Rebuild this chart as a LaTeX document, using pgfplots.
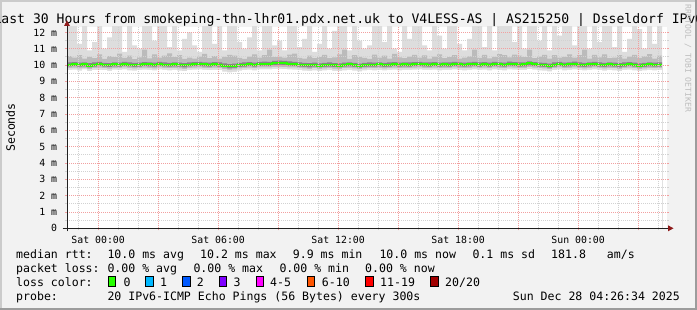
\documentclass[border=0pt]{standalone}
\usepackage{pgfplots}
\pgfplotsset{compat=1.18}
\usepackage{pgfplotstable}
\usepackage{fontspec}
\setmainfont{DejaVu Sans Mono}
\setmonofont{DejaVu Sans Mono}
\newcommand\titlefont{\fontsize{13.1bp}{15bp}\selectfont}
\newcommand\legfont{\fontsize{11.55bp}{13bp}\selectfont}
\newcommand\axfont{\fontsize{9.85bp}{11bp}\selectfont}
\newcommand\tinyfont{\fontsize{8.1bp}{9bp}\selectfont}
\definecolor{bgc}{HTML}{F2F2F2}
\definecolor{shadea}{HTML}{CBCBCB}
\definecolor{shadeb}{HTML}{9C9C9C}
\definecolor{mgridc}{HTML}{F2A0A0}
\definecolor{gridc}{HTML}{D2D2D2}
\definecolor{lightsmoke}{HTML}{DDDDDD}
\definecolor{midsmoke}{HTML}{BBBBBB}
\definecolor{darksmoke}{HTML}{858585}
\definecolor{medgreen}{HTML}{26FF00}
\definecolor{arrowc}{HTML}{8E1B1B}
\definecolor{axisc}{HTML}{202020}
\definecolor{lc1}{HTML}{00B8FF}
\definecolor{lc2}{HTML}{0059FF}
\definecolor{lc3}{HTML}{7E00FF}
\definecolor{lc4}{HTML}{FF00FF}
\definecolor{lc5}{HTML}{FF5500}
\definecolor{lc6}{HTML}{FF0000}
\definecolor{lc7}{HTML}{A10000}
\definecolor{rrdc}{HTML}{BDBDBD}

\pgfplotstableread{
x lmax mhi dhi med dlo mlo lmin
-1.557 12.5 10.55 10.16 10.03 9.92 9.82 9.70
-1.307 12.5 10.45 10.18 10.05 9.93 9.84 9.72
-1.057 11.3 10.60 10.15 10.02 9.90 9.80 9.66
-0.807 12.5 10.40 10.17 10.04 9.92 9.83 9.74
-0.557 10.9 10.50 10.12 9.97 9.86 9.76 9.62
-0.307 11.4 10.42 10.16 10.03 9.91 9.82 9.70
-0.057 12.5 10.65 10.19 10.05 9.93 9.84 9.71
0.193 11.0 10.38 10.14 10.01 9.90 9.81 9.69
0.443 11.7 10.55 10.12 9.98 9.87 9.78 9.64
0.693 12.5 10.48 10.17 10.04 9.92 9.83 9.72
0.943 12.5 10.70 10.15 10.02 9.91 9.82 9.70
1.193 10.8 10.44 10.20 10.06 9.94 9.85 9.73
1.443 12.5 10.58 10.16 10.03 9.92 9.82 9.68
1.693 11.2 10.36 10.13 9.99 9.88 9.79 9.66
1.943 11.0 10.47 10.15 10.02 9.91 9.82 9.70
2.193 12.5 10.95 10.18 10.05 9.93 9.84 9.72
2.443 12.5 10.41 10.17 10.04 9.92 9.83 9.71
2.693 11.5 10.66 10.15 10.02 9.90 9.80 9.67
2.943 12.5 10.46 10.19 10.06 9.94 9.85 9.74
3.193 12.5 10.57 10.16 10.03 9.92 9.82 9.70
3.443 11.1 10.72 10.14 10.01 9.90 9.81 9.68
3.693 12.5 10.49 10.17 10.04 9.92 9.83 9.71
3.943 10.9 10.60 10.15 10.02 9.90 9.80 9.66
4.193 11.6 10.37 10.12 9.98 9.86 9.77 9.63
4.443 12.0 10.45 10.16 10.03 9.92 9.82 9.70
4.693 11.2 10.40 10.18 10.05 9.93 9.84 9.72
4.943 10.8 10.52 10.20 10.07 9.95 9.86 9.74
5.193 12.5 10.68 10.17 10.04 9.92 9.83 9.70
5.443 12.5 10.43 10.15 10.02 9.90 9.81 9.69
5.693 11.3 10.55 10.18 10.05 9.93 9.84 9.71
5.943 12.5 10.39 10.16 10.03 9.91 9.82 9.70
6.193 10.9 10.50 10.10 9.96 9.85 9.75 9.60
6.443 12.5 10.63 10.06 9.92 9.80 9.70 9.55
6.693 12.5 10.58 10.09 9.95 9.83 9.73 9.58
6.943 11.4 10.44 10.13 10.00 9.88 9.79 9.66
7.193 11.0 10.38 10.16 10.03 9.91 9.82 9.70
7.443 11.7 10.51 10.18 10.05 9.93 9.84 9.72
7.693 12.5 10.66 10.15 10.02 9.90 9.81 9.68
7.943 10.9 10.45 10.19 10.06 9.94 9.85 9.73
8.193 12.5 10.60 10.21 10.08 9.96 9.86 9.74
8.443 12.5 10.95 10.20 10.06 9.94 9.85 9.73
8.693 11.2 10.48 10.26 10.12 10.00 9.88 9.76
8.943 11.5 10.52 10.27 10.13 10.01 9.89 9.77
9.193 10.9 10.46 10.25 10.11 9.99 9.87 9.75
9.443 12.5 10.64 10.22 10.08 9.96 9.86 9.74
9.693 12.5 10.70 10.19 10.06 9.94 9.85 9.72
9.943 11.1 10.44 10.16 10.03 9.91 9.82 9.70
10.193 11.6 10.40 10.13 10.00 9.88 9.79 9.66
10.443 12.5 10.58 10.11 9.98 9.86 9.77 9.64
10.693 10.8 10.43 10.15 10.02 9.90 9.81 9.68
10.943 11.3 10.49 10.10 9.97 9.85 9.76 9.62
11.193 12.5 10.62 10.14 10.01 9.89 9.80 9.67
11.443 11.0 10.42 10.16 10.03 9.91 9.82 9.70
11.693 12.1 10.47 10.12 9.99 9.87 9.78 9.65
11.943 12.5 10.65 10.10 9.97 9.85 9.76 9.62
12.193 12.5 10.95 10.15 10.02 9.90 9.81 9.68
12.443 10.9 10.38 10.17 10.04 9.92 9.83 9.71
12.693 12.5 10.61 10.13 10.00 9.88 9.79 9.66
12.943 11.5 10.50 10.09 9.96 9.84 9.75 9.61
13.193 11.0 10.44 10.14 10.01 9.89 9.80 9.67
13.443 11.2 10.37 10.16 10.03 9.91 9.82 9.70
13.693 12.5 10.64 10.15 10.02 9.90 9.81 9.68
13.943 12.5 10.46 10.17 10.04 9.92 9.83 9.71
14.193 11.4 10.57 10.14 10.01 9.89 9.80 9.67
14.443 12.5 10.40 10.16 10.03 9.91 9.82 9.70
14.693 11.0 10.68 10.18 10.05 9.93 9.84 9.72
14.943 10.8 10.47 10.15 10.02 9.90 9.81 9.68
15.193 12.5 10.42 10.17 10.04 9.92 9.83 9.71
15.443 11.6 10.51 10.16 10.03 9.91 9.82 9.70
15.693 12.5 10.63 10.18 10.05 9.93 9.84 9.72
15.943 12.5 10.45 10.19 10.06 9.94 9.85 9.73
16.193 11.2 10.59 10.17 10.04 9.92 9.83 9.71
16.443 10.9 10.39 10.16 10.03 9.91 9.82 9.70
16.693 12.5 10.52 10.18 10.05 9.93 9.84 9.72
16.943 11.8 10.66 10.15 10.02 9.90 9.81 9.68
17.193 11.0 10.43 10.17 10.04 9.92 9.83 9.71
17.443 12.5 10.48 10.16 10.03 9.91 9.82 9.70
17.693 12.5 10.61 10.19 10.06 9.94 9.85 9.73
17.943 11.3 10.40 10.17 10.04 9.92 9.83 9.71
18.193 10.9 10.46 10.15 10.02 9.90 9.81 9.68
18.443 11.6 10.53 10.17 10.04 9.92 9.83 9.71
18.693 12.5 10.95 10.20 10.07 9.95 9.86 9.74
18.943 12.5 10.44 10.16 10.03 9.91 9.82 9.70
19.193 11.1 10.62 10.18 10.05 9.93 9.84 9.72
19.443 12.5 10.41 10.15 10.02 9.90 9.81 9.68
19.693 10.9 10.50 10.19 10.06 9.94 9.85 9.73
19.943 12.5 10.67 10.17 10.04 9.92 9.83 9.71
20.193 12.5 10.60 10.15 10.02 9.90 9.81 9.68
20.443 12.5 10.47 10.21 10.08 9.96 9.86 9.74
20.693 11.4 10.64 10.18 10.05 9.93 9.84 9.72
20.943 12.5 10.58 10.16 10.03 9.91 9.82 9.70
21.193 11.0 10.48 10.17 10.04 9.92 9.83 9.71
21.443 12.5 10.95 10.23 10.10 9.98 9.87 9.75
21.693 12.5 10.43 10.18 10.05 9.93 9.84 9.72
21.943 11.5 10.52 10.15 10.02 9.90 9.81 9.68
22.193 12.5 10.63 10.13 10.00 9.88 9.79 9.66
22.443 10.9 10.39 10.09 9.96 9.84 9.75 9.61
22.693 12.5 10.60 10.16 10.03 9.91 9.82 9.70
22.943 11.8 10.46 10.19 10.06 9.94 9.85 9.73
23.193 12.5 10.50 10.15 10.02 9.90 9.81 9.68
23.443 12.5 10.66 10.17 10.04 9.92 9.83 9.71
23.693 11.2 10.45 10.21 10.08 9.96 9.86 9.74
23.943 12.5 10.61 10.16 10.03 9.91 9.82 9.70
24.193 12.5 10.95 10.14 10.01 9.89 9.80 9.67
24.443 11.0 10.40 10.17 10.04 9.92 9.83 9.71
24.693 12.5 10.62 10.19 10.06 9.94 9.85 9.73
24.943 11.4 10.47 10.16 10.03 9.91 9.82 9.70
25.193 12.5 10.65 10.13 10.00 9.88 9.79 9.66
25.443 12.5 10.42 10.17 10.04 9.92 9.83 9.71
25.693 11.1 10.46 10.15 10.02 9.90 9.81 9.68
25.943 12.5 10.60 10.11 9.98 9.86 9.77 9.63
26.193 10.8 10.39 10.16 10.03 9.91 9.82 9.70
26.443 11.6 10.51 10.18 10.05 9.93 9.84 9.72
26.693 12.5 10.63 10.15 10.02 9.90 9.81 9.68
26.943 12.2 10.44 10.10 9.97 9.85 9.76 9.62
27.193 11.0 10.53 10.14 10.01 9.89 9.80 9.67
27.443 12.5 10.67 10.17 10.04 9.92 9.83 9.71
27.693 11.3 10.40 10.15 10.02 9.90 9.81 9.68
27.943 12.5 10.58 10.16 10.03 9.91 9.82 9.70
28.193 12.5 10.58 10.16 10.03 9.91 9.82 9.70
}\smoke

\begin{document}
\begin{tikzpicture}
\useasboundingbox (0,0) rectangle (697bp,310bp);
\fill[bgc] (0,0) rectangle (697bp,310bp);
\fill[shadea] (0,0) rectangle (2bp,310bp);
\fill[shadea] (0,308bp) rectangle (697bp,310bp);
\fill[shadeb] (0,0) rectangle (697bp,2bp);
\fill[shadeb] (695bp,0) rectangle (697bp,310bp);
\fill[white] (67bp,81.7bp) rectangle (667bp,283bp);

\node[anchor=base, font=\titlefont, inner sep=0] at (348.5bp,286bp)
  {Last 30 Hours from smokeping-thn-lhr01.pdx.net.uk to V4LESS-AS | AS215250 | Dsseldorf IPv6};
\node[rotate=-90, font=\tinyfont, text=rrdc, inner sep=0] at (688bp,251.5bp) {RRDTOOL / TOBI OETIKER};
\node[rotate=90, font=\legfont, inner sep=0] at (10.5bp,182.5bp) {Seconds};

\begin{axis}[
  at={(67bp,81.7bp)}, anchor=south west,
  scale only axis, width=600bp, height=201.3bp,
  xmin=-1.557, xmax=28.443, ymin=0, ymax=12.33,
  axis on top,
  axis line style={draw=none},
  xtick={0,6,12,18,24},
  xticklabels={Sat 00:00,Sat 06:00,Sat 12:00,Sat 18:00,Sun 00:00},
  extra x ticks={3,9,15,21,27},
  extra x tick labels={},
  extra x tick style={grid=major},
  minor xtick={-1,0,...,28},
  ytick={0,1,...,12},
  yticklabels={0,1 m,2 m,3 m,4 m,5 m,6 m,7 m,8 m,9 m,10 m,11 m,12 m},
  minor ytick={0.5,1.5,...,11.5},
  grid=both,
  major grid style={mgridc, line width=0.8bp, dash pattern=on 1bp off 1bp},
  minor grid style={gridc, line width=0.8bp, dash pattern=on 1bp off 1bp},
  major tick style={mgridc, line width=0.8bp},
  minor tick style={gridc, line width=0.8bp},
  tick align=outside,
  major tick length=2bp, minor tick length=2bp,
  xtick pos=bottom,
  xticklabel style={font=\axfont, anchor=base, inner sep=0pt, yshift=-13.2bp},
  yticklabel style={font=\axfont, anchor=east, inner sep=0pt, xshift=-7.7bp},
]
\addplot[const plot, fill=lightsmoke, draw=none] table[x=x,y=lmax]{\smoke} \closedcycle;
\addplot[const plot, fill=midsmoke, draw=none] table[x=x,y=mhi]{\smoke} \closedcycle;
\addplot[const plot, fill=darksmoke, draw=none] table[x=x,y=dhi]{\smoke} \closedcycle;
\addplot[const plot, fill=midsmoke, draw=none] table[x=x,y=dlo]{\smoke} \closedcycle;
\addplot[const plot, fill=lightsmoke, draw=none] table[x=x,y=mlo]{\smoke} \closedcycle;
\addplot[const plot, fill=white, draw=none] table[x=x,y=lmin]{\smoke} \closedcycle;
\addplot[const plot, medgreen, line width=2bp] table[x=x,y=med]{\smoke};
\end{axis}

% axis lines and arrows
\draw[axisc, line width=0.8bp] (62.5bp,81.7bp) -- (669bp,81.7bp);
\fill[arrowc] (668bp,78.7bp) -- (673.5bp,81.7bp) -- (668bp,84.7bp) -- cycle;
\draw[axisc, line width=0.8bp] (67bp,78.5bp) -- (67bp,284bp);
\fill[arrowc] (64bp,284bp) -- (67bp,289.5bp) -- (70bp,284bp) -- cycle;

% legend
\begin{scope}[every node/.style={font=\legfont, inner sep=0, anchor=base west}]
\node at (16bp,51.7bp) {median rtt:};
\node at (107.3bp,51.7bp) {10.0 ms avg};
\node at (200bp,51.7bp) {10.2 ms max};
\node at (292.7bp,51.7bp) {9.9 ms min};
\node at (379.3bp,51.7bp) {10.0 ms now};
\node at (472.3bp,51.7bp) {0.1 ms sd};
\node at (551bp,51.7bp) {181.8};
\node at (606.7bp,51.7bp) {am/s};

\node at (16bp,37.7bp) {packet loss:};
\node at (107.3bp,37.7bp) {0.00 \% avg};
\node at (193.3bp,37.7bp) {0.00 \% max};
\node at (279.3bp,37.7bp) {0.00 \% min};
\node at (365bp,37.7bp) {0.00 \% now};

\node at (16bp,23.7bp) {loss color:};
\node at (123.3bp,23.7bp) {0};
\node at (160bp,23.7bp) {1};
\node at (196.7bp,23.7bp) {2};
\node at (233.3bp,23.7bp) {3};
\node at (270bp,23.7bp) {4-5};
\node at (321.7bp,23.7bp) {6-10};
\node at (380bp,23.7bp) {11-19};
\node at (445bp,23.7bp) {20/20};

\node at (16bp,9.5bp) {probe:};
\node at (107.3bp,9.5bp) {20 IPv6-ICMP Echo Pings (56 Bytes) every 300s};
\node[anchor=base east] at (680bp,9.5bp) {Sun Dec 28 04:26:34 2025};
\end{scope}
\foreach \bx/\bc in {108.3/medgreen,145.7/lc1,182.7/lc2,219.3/lc3,256/lc4,307/lc5,365.7/lc6,430.7/lc7}{
  \filldraw[fill=\bc, draw=black, line width=0.8bp] (\bx bp,23.9bp) rectangle ++(7.4bp,9.6bp);
}
\end{tikzpicture}
\end{document}
